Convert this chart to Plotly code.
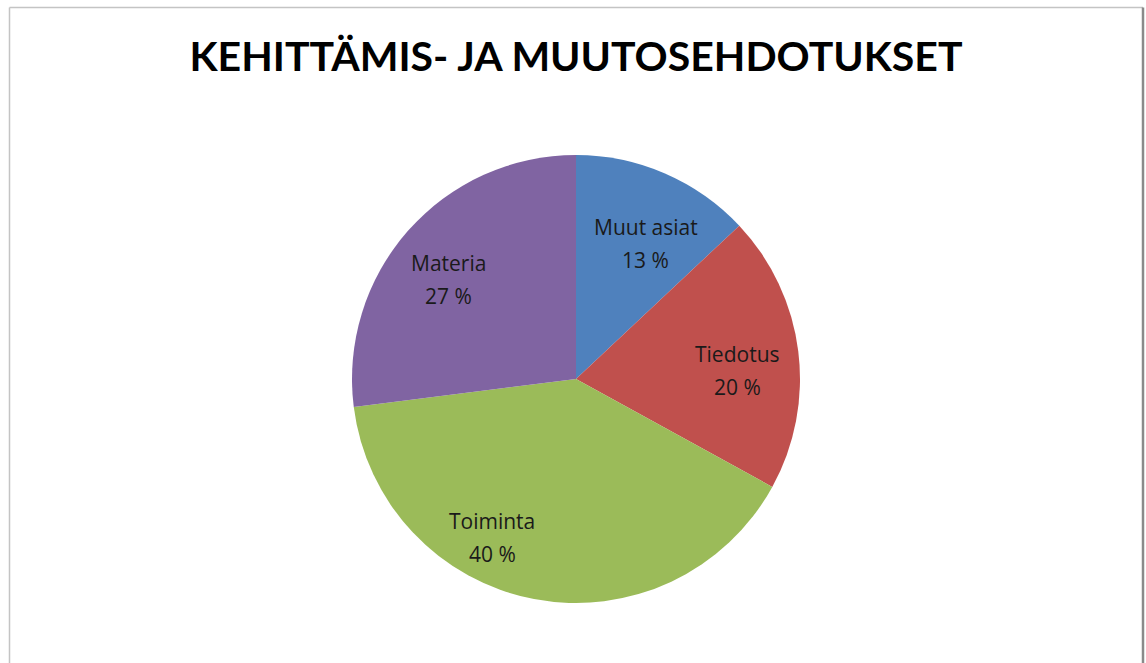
import math
import plotly.graph_objects as go

categories = ["Muut asiat", "Tiedotus", "Toiminta", "Materia"]
values = [13, 20, 40, 27]
colors = ["#4F81BD", "#C0504D", "#9BBB59", "#8064A2"]
title_text = "KEHITTÄMIS- JA MUUTOSEHDOTUKSET"

# label placement tuning (radius fraction, angular nudge in degrees) -- layout only
label_radius = [0.68, 0.72, 0.80, 0.72]
label_nudge = [3.9, 4.2, 17.0, -3.5]

W, H = 1146, 663
cx, cy, r = 576, 379, 224

fig = go.Figure(go.Pie(
    labels=categories,
    values=values,
    sort=False,
    direction="clockwise",
    rotation=0,
    marker=dict(colors=colors, line=dict(width=0)),
    textinfo="none",
    showlegend=False,
    hoverinfo="label+percent",
    domain=dict(x=[(cx - r) / W, (cx + r) / W], y=[1 - (cy + r) / H, 1 - (cy - r) / H]),
))

total = sum(values)
annotations = []
cum = 0
lab_font = dict(family="Open Sans, sans-serif", size=21, color="#1a1a1a")
for name, v, f, nud in zip(categories, values, label_radius, label_nudge):
    theta = math.radians(360 * (cum + v / 2) / total + nud)
    cum += v
    px = cx + f * r * math.sin(theta)
    py = cy - f * r * math.cos(theta)
    ax, ay = px / W, 1 - py / H
    annotations.append(dict(x=ax, y=ay, xref="paper", yref="paper", text=name, showarrow=False,
                            yshift=16.5, font=lab_font, xanchor="center", yanchor="middle"))
    annotations.append(dict(x=ax, y=ay, xref="paper", yref="paper", text=f"{round(100 * v / total)} %",
                            showarrow=False, yshift=-16.5, font=lab_font, xanchor="center", yanchor="middle"))

fig.update_layout(
    width=W, height=H,
    margin=dict(l=0, r=0, t=0, b=0),
    paper_bgcolor="white",
    title=dict(text="<b>" + title_text + "</b>", x=576 / W, xanchor="center",
               y=1 - 57 / H, yanchor="middle",
               font=dict(family="Lato, sans-serif", size=41, color="#000000")),
    annotations=annotations,
    shapes=[
        dict(type="line", xref="paper", yref="paper", x0=9.5 / W, x1=9.5 / W, y0=0, y1=1 - 7.5 / H,
             line=dict(color="#c4c4c4", width=1.5)),
        dict(type="line", xref="paper", yref="paper", x0=9.5 / W, x1=1143 / W, y0=1 - 7.5 / H,
             y1=1 - 7.5 / H, line=dict(color="#c4c4c4", width=1.5)),
        dict(type="line", xref="paper", yref="paper", x0=1143 / W, x1=1143 / W, y0=0, y1=1 - 7.5 / H,
             line=dict(color="#8a8a8a", width=2.5)),
    ],
)

fig.write_html("out.html",
               config={"displayModeBar": False},
               post_script="document.body.style.margin='0';document.body.style.overflow='hidden';")
